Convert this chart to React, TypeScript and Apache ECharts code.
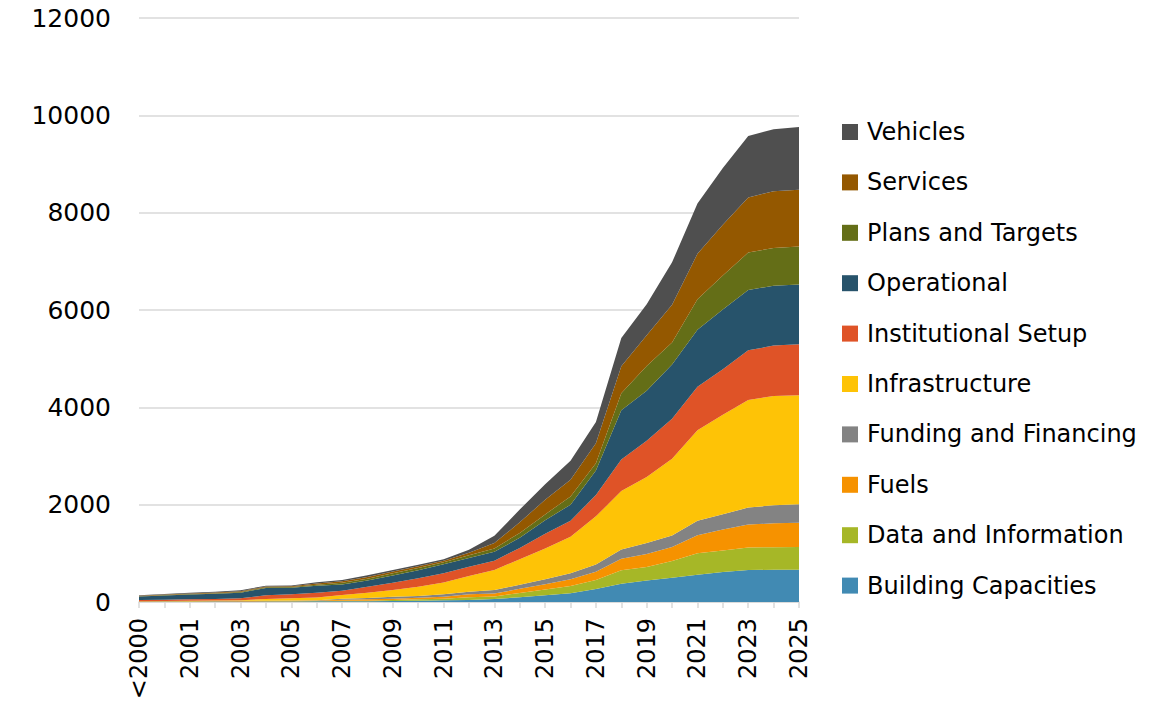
import React, { useEffect, useRef } from "react";
import * as echarts from "echarts";

const categories = ["<2000", "2000", "2001", "2002", "2003", "2004", "2005", "2006", "2007", "2008", "2009", "2010", "2011", "2012", "2013", "2014", "2015", "2016", "2017", "2018", "2019", "2020", "2021", "2022", "2023", "2024", "2025"];

const buildingCapacities = [5, 5, 6, 7, 8, 10, 12, 14, 14, 14, 21, 27, 34, 41, 60, 100, 140, 180, 265, 377, 440, 500, 560, 617, 655, 664, 664];
const dataAndInformation = [0, 1, 2, 2, 3, 3, 3, 4, 13, 13, 20, 28, 34, 55, 55, 85, 115, 150, 185, 274, 280, 340, 440, 443, 465, 461, 466];
const fuels = [5, 6, 7, 8, 9, 9, 10, 12, 21, 28, 27, 34, 42, 62, 60, 85, 110, 140, 170, 239, 265, 290, 370, 430, 470, 492, 500];
const fundingAndFinancing = [0, 1, 2, 3, 4, 4, 5, 6, 20, 27, 42, 34, 48, 54, 70, 85, 105, 120, 150, 190, 227, 235, 300, 315, 350, 370, 377];
const infrastructure = [5, 7, 9, 10, 14, 36, 45, 56, 76, 110, 137, 192, 242, 322, 415, 525, 630, 750, 990, 1200, 1357, 1580, 1858, 2045, 2210, 2246, 2240];
const institutionalSetup = [25, 28, 32, 34, 37, 75, 83, 98, 89, 123, 150, 171, 190, 192, 190, 230, 300, 330, 440, 650, 746, 822, 897, 930, 1022, 1035, 1048];
const operational = [75, 87, 97, 106, 115, 153, 137, 145, 127, 125, 148, 164, 185, 179, 180, 210, 280, 330, 500, 1009, 1025, 1113, 1170, 1230, 1238, 1232, 1230];
const plansAndTargets = [5, 7, 8, 10, 13, 15, 13, 20, 35, 40, 45, 50, 40, 55, 70, 100, 120, 170, 150, 351, 510, 450, 625, 700, 770, 776, 778];
const services = [8, 10, 12, 15, 17, 15, 14, 23, 30, 35, 35, 35, 35, 50, 110, 220, 300, 340, 410, 553, 630, 780, 935, 1040, 1130, 1165, 1167];
const vehicles = [12, 13, 15, 17, 20, 16, 16, 26, 27, 33, 33, 32, 30, 65, 150, 260, 320, 390, 440, 582, 640, 870, 1035, 1170, 1265, 1274, 1292];

const seriesNames = ["Building Capacities", "Data and Information", "Fuels", "Funding and Financing", "Infrastructure", "Institutional Setup", "Operational", "Plans and Targets", "Services", "Vehicles"];
const seriesData = [buildingCapacities, dataAndInformation, fuels, fundingAndFinancing, infrastructure, institutionalSetup, operational, plansAndTargets, services, vehicles];
const seriesColors = ["#418AB3", "#A6B727", "#F69200", "#838383", "#FEC306", "#DF5327", "#27536B", "#646E17", "#945800", "#4F4F4F"];

const FONT = "DejaVu Sans";

export default function App() {
  const ref = useRef<HTMLDivElement>(null);
  useEffect(() => {
    if (!ref.current) return;
    const chart = echarts.init(ref.current, undefined, { renderer: "svg" });
    chart.setOption({
      animation: false,
      backgroundColor: "#ffffff",
      textStyle: { fontFamily: FONT },
      grid: { left: 139, right: 372, top: 18, bottom: 112, containLabel: false },
      legend: {
        orient: "vertical",
        left: 837,
        top: 115,
        data: seriesNames.slice().reverse(),
        icon: "rect",
        itemWidth: 16,
        itemHeight: 16,
        itemGap: 26.4,
        textStyle: { fontFamily: FONT, fontSize: 24, color: "#000", lineHeight: 24, padding: [0, 0, 0, 4] },
      },
      xAxis: {
        type: "category",
        data: categories,
        boundaryGap: false,
        axisLine: { show: true, lineStyle: { color: "#D9D9D9", width: 1.5 } },
        axisTick: { show: true, interval: 0, length: 6, lineStyle: { color: "#D9D9D9", width: 1.5 } },
        axisLabel: { interval: 1, rotate: 90, margin: 16, fontFamily: FONT, fontSize: 24, color: "#000" },
        splitLine: { show: false },
      },
      yAxis: {
        type: "value",
        min: 0,
        max: 12000,
        interval: 2000,
        axisLine: { show: false },
        axisTick: { show: false },
        axisLabel: { margin: 28, fontFamily: FONT, fontSize: 25, color: "#000", formatter: (v: number) => String(v) },
        splitLine: { lineStyle: { color: "#D9D9D9", width: 1.5 } },
      },
      series: seriesNames.map((name, i) => ({
        name,
        type: "line",
        stack: "total",
        data: seriesData[i],
        symbol: "none",
        showSymbol: false,
        color: seriesColors[i],
        lineStyle: { width: 0 },
        areaStyle: { color: seriesColors[i], opacity: 1 },
      })),
    });
    return () => chart.dispose();
  }, []);
  return <div ref={ref} style={{ position: "fixed", left: 0, top: 0, width: 1171, height: 714 }} />;
}
